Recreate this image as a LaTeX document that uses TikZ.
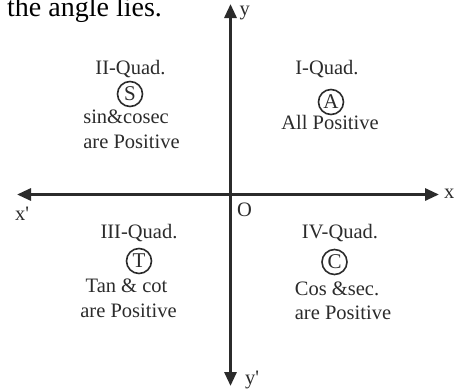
\documentclass[tikz,border=0pt]{standalone}
\usepackage{fontspec}
\setmainfont{Liberation Serif}
\usetikzlibrary{arrows.meta}
\definecolor{ink}{HTML}{2B2B2B}
\begin{document}
\begin{tikzpicture}[x=1pt,y=-1pt,
  lab/.style={font=\fontsize{20.5}{24}\selectfont, text=ink, inner sep=0pt, anchor=base},
  axlab/.style={font=\fontsize{20.5}{24}\selectfont, text=ink, inner sep=0pt, anchor=base west},
  circ/.style={circle, draw=ink, line width=1.6pt, minimum size=25pt, inner sep=0pt,
               font=\fontsize{21}{22}\selectfont, text=ink},
  axisline/.style={line width=3pt, draw=ink,
               {Triangle[length=14pt,width=12pt]}-{Triangle[length=14pt,width=12pt]}}]
\useasboundingbox (0,0) rectangle (460,391);

% heading fragment
\node[anchor=base west, inner sep=0pt, font=\fontsize{28}{32}\selectfont, text=black] (head) at (7,16.5) {the angle lies.};

% axes
\coordinate (xl) at (17,194.5);
\coordinate (xr) at (439,194.5);
\coordinate (yt) at (230.5,4);
\coordinate (yb) at (230.5,386);
\draw[axisline] (xl) -- (xr);
\draw[axisline] (yb) -- (yt);

\node[axlab] (ly)  at (239.5,15.5) {y};
\node[axlab] (lyp) at (245,384) {y\textquotesingle};
\node[axlab] (lx)  at (444,198) {x};
\node[axlab] (lxp) at (15,220) {x\textquotesingle};
\node[axlab] (lo)  at (237,216) {O};

% quadrant I
\node[lab] (q1) at (327,74) {I-Quad.};
\node[circ] (cA) at (331,102) {A};
\node[lab] (q1a) at (330,129) {All Positive};

% quadrant II
\node[lab] (q2) at (130.5,74) {II-Quad.};
\node[circ] (cS) at (130,94) {S};
\node[lab] (q2a) at (126,123) {sin\&cosec};
\node[lab] (q2b) at (131.5,148) {are Positive};

% quadrant III
\node[lab] (q3) at (139,238) {III-Quad.};
\node[circ] (cT) at (139,261) {T};
\node[lab] (q3a) at (126.5,292) {Tan \& cot};
\node[lab] (q3b) at (128.5,317) {are Positive};

% quadrant IV
\node[lab] (q4) at (340,238) {IV-Quad.};
\node[circ] (cC) at (334.5,262) {C};
\node[lab] (q4a) at (337,295) {Cos \&sec.};
\node[lab] (q4b) at (343,319) {are Positive};
\end{tikzpicture}
\end{document}
